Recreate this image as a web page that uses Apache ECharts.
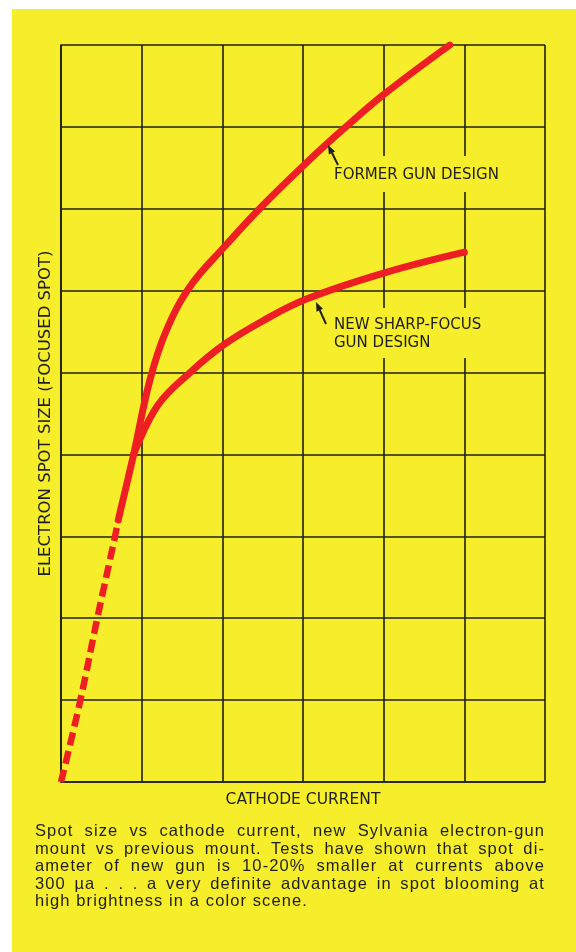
<!DOCTYPE html>
<html>
<head>
<meta charset="utf-8">
<script src="https://cdn.jsdelivr.net/npm/echarts@6/dist/echarts.min.js"></script>
<style>
  html, body { margin: 0; padding: 0; background: #fff; }
  .page { position: relative; width: 576px; height: 952px; overflow: hidden; }
  .paper { position: absolute; left: 12px; top: 9px; right: 0; bottom: 0; background: #f6ed2b; }
  #chart { position: absolute; left: 0; top: 0; width: 576px; height: 952px; }
  .caption {
    position: absolute; left: 35px; top: 822px; width: 510px;
    font-family: "Liberation Sans", Arial, sans-serif; font-size: 16.5px;
    letter-spacing: 1.1px; color: #1e1e1e;
  }
  .caption div { height: 17.5px; line-height: 17.5px; white-space: nowrap; text-align: justify; text-align-last: justify; }
  .caption div.last { text-align-last: left; }
</style>
</head>
<body>
<div class="page">
  <div class="paper"></div>
  <div id="chart"></div>
  <div class="caption">
    <div>Spot size vs cathode current, new Sylvania electron-gun</div>
    <div>mount vs previous mount. Tests have shown that spot di-</div>
    <div>ameter of new gun is 10-20% smaller at currents above</div>
    <div>300 µa . . . a very definite advantage in spot blooming at</div>
    <div class="last">high brightness in a color scene.</div>
  </div>
</div>
<script>
// grid units: 6 columns of cathode current, 9 rows of spot size
const xMax = 6;
const yMax = 9;

// former gun design, dashed low-current part then solid
const formerDashX = [0, 0.24, 0.45, 0.67, 0.71];
const formerDashY = [0, 1.0, 2.0, 3.0, 3.2];
const formerX = [0.71, 0.9, 1.1, 1.3, 1.6, 2.02, 2.5, 3.04, 3.52, 4.02, 4.82];
const formerY = [3.2, 4.0, 4.9, 5.5, 6.05, 6.53, 7.04, 7.56, 7.99, 8.41, 9.0];

// new sharp-focus gun design, branches off the former curve
const newX = [0.9, 1.2, 1.6, 2.02, 2.5, 3.05, 4.02, 5.0];
const newY = [4.0, 4.6, 5.0, 5.34, 5.63, 5.9, 6.22, 6.47];

const xTitle = 'CATHODE CURRENT';
const yTitle = 'ELECTRON SPOT SIZE (FOCUSED SPOT)';
const formerLabel = 'FORMER GUN DESIGN';
const newLabel = 'NEW SHARP-FOCUS\nGUN DESIGN';

const RED = '#ee1f22';
const INK = '#1e1e1e';
const PAPER = '#f6ed2b';
const LABEL_FONT = '"DejaVu Sans", sans-serif';

const zip = (xs, ys) => xs.map((x, i) => [x, ys[i]]);

// small arrow: line from tail to tip plus a filled head
function arrow (tail, tip) {
  const dx = tip[0] - tail[0], dy = tip[1] - tail[1];
  const len = Math.sqrt(dx * dx + dy * dy);
  const ux = dx / len, uy = dy / len;
  const hl = 9, hw = 3.5;
  const bx = tip[0] - ux * hl, by = tip[1] - uy * hl;
  return [
    {
      type: 'line', z: 110,
      shape: { x1: tail[0], y1: tail[1], x2: bx, y2: by },
      style: { stroke: INK, lineWidth: 2 }
    },
    {
      type: 'polygon', z: 110,
      shape: { points: [tip, [bx - uy * hw, by + ux * hw], [bx + uy * hw, by - ux * hw]] },
      style: { fill: INK }
    }
  ];
}

const chart = echarts.init(document.getElementById('chart'), null, { renderer: 'canvas' });

const axisCommon = {
  type: 'value',
  min: 0,
  interval: 1,
  nameLocation: 'middle',
  nameTextStyle: { color: INK, fontSize: 15.5, fontFamily: LABEL_FONT },
  axisLine: { show: true, lineStyle: { color: INK, width: 1.6 } },
  axisTick: { show: false },
  axisLabel: { show: false },
  splitLine: { show: true, lineStyle: { color: INK, width: 1.6 } }
};

chart.setOption({
  backgroundColor: 'transparent',
  animation: false,
  grid: { left: 61, right: 31, top: 45, bottom: 170 },
  xAxis: Object.assign({}, axisCommon, { max: xMax, name: xTitle, nameGap: 10 }),
  yAxis: Object.assign({}, axisCommon, {
    max: yMax, name: yTitle, nameGap: 7,
    nameTextStyle: { color: INK, fontSize: 16.5, fontFamily: LABEL_FONT }
  }),
  series: [
    {
      name: 'former dashed',
      type: 'line',
      data: zip(formerDashX, formerDashY),
      smooth: 0.4,
      symbol: 'none',
      lineStyle: { color: RED, width: 6.5, type: [13, 6], cap: 'butt' }
    },
    {
      name: 'former',
      type: 'line',
      data: zip(formerX, formerY),
      smooth: 0.4,
      symbol: 'none',
      lineStyle: { color: RED, width: 7, cap: 'round' }
    },
    {
      name: 'new',
      type: 'line',
      data: zip(newX, newY),
      smooth: 0.4,
      symbol: 'none',
      lineStyle: { color: RED, width: 7, cap: 'round' }
    }
  ],
  graphic: [
    // yellow masks interrupt the grid behind the annotations
    { type: 'rect', z: 100, shape: { x: 327, y: 156, width: 183, height: 36 }, style: { fill: PAPER } },
    { type: 'rect', z: 100, shape: { x: 327, y: 308, width: 178, height: 50 }, style: { fill: PAPER } },
    {
      type: 'text', z: 110, x: 334, y: 175,
      style: { text: formerLabel, fill: INK, font: '15px ' + LABEL_FONT, verticalAlign: 'middle' }
    },
    {
      type: 'text', z: 110, x: 334, y: 316,
      style: { text: newLabel, fill: INK, font: '15px ' + LABEL_FONT, lineHeight: 18 }
    }
  ].concat(arrow([338, 165], [328, 145]), arrow([326, 324], [316, 302]))
});
</script>
</body>
</html>
